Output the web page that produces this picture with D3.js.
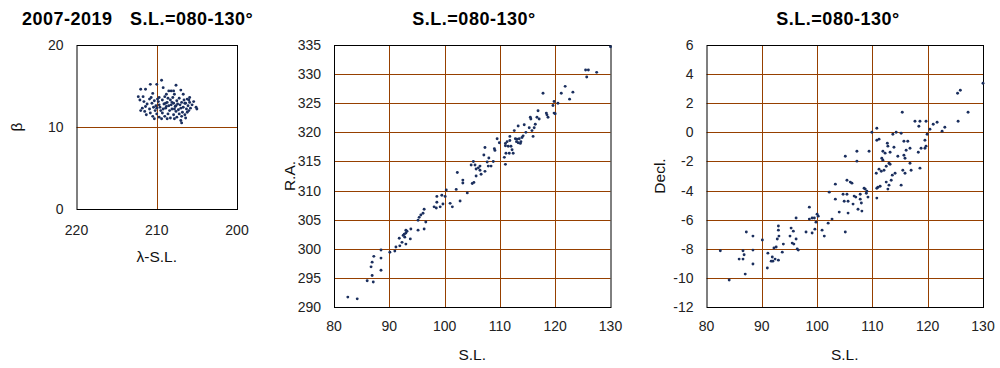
<!DOCTYPE html>
<html><head><meta charset="utf-8">
<script src="https://cdn.jsdelivr.net/npm/d3@7"></script>
<style>body{margin:0;background:#fff}svg{display:block}text{font-family:Arial,"Liberation Sans",sans-serif}</style>
</head><body><svg id="c" width="1000" height="368"></svg>
<script>
// ---- data ----
const titleYears = "2007-2019";
const titleSL = "S.L.=080-130°";

// panel 1: λ-S.L. vs β
const lamSL = [209.4,210.8,210.0,207.6,211.4,212.0,208.5,208.2,207.9,207.0,209.2,212.3,211.7,207.8,206.7,209.7,208.8,210.5,206.2,205.9,
212.1,211.6,211.2,210.9,210.6,210.3,210.1,209.8,209.6,209.3,209.1,208.9,208.7,208.5,208.3,208.1,207.9,207.7,207.5,207.3,207.1,206.9,206.7,206.5,206.3,206.1,205.9,206.6,207.2,208.0,208.6,209.0,209.9,210.7,211.4,211.8,210.4,209.5,208.4,207.6,206.8,206.0,205.0,205.1,205.6,205.4,207.4,208.2,208.8,209.7,210.2,210.9,211.5,212.0,
211.3,210.8,210.5,210.0,209.7,209.3,209.0,208.6,208.3,207.9,207.5,207.2,206.9,206.5,206.2,207.0,206.9,208.7,210.3,209.4,207.8,206.4,
207.0,207.6,206.4,207.8,208.9,209.2,206.0,205.8,210.0,208.1];
const beta = [15.7,15.2,15.2,15.1,14.6,14.6,14.4,14.4,14.4,14.5,14.8,13.7,13.7,14.0,14.0,13.6,14.0,14.1,13.4,13.6,
13.3,13.1,12.8,13.4,12.9,13.2,12.6,13.1,12.4,13.3,12.8,12.3,13.0,12.6,13.3,12.2,12.9,12.5,13.2,12.1,12.7,13.0,12.4,12.9,12.2,12.6,13.0,13.3,13.5,13.6,13.5,13.7,13.4,13.6,12.5,12.3,12.4,12.0,12.0,11.9,11.8,12.0,12.2,12.4,12.7,13.1,12.8,12.7,12.5,12.7,12.0,12.2,11.9,12.0,
11.5,11.7,11.3,11.6,11.2,11.7,11.3,11.6,11.1,11.5,11.2,11.6,11.3,11.5,11.8,10.8,10.5,11.0,11.0,11.0,11.0,11.1,
12.3,12.6,12.9,12.2,12.9,12.2,13.3,12.3,12.3,13.0];

// panel 2: S.L. vs R.A.
const slRA = [82.5,84.2,86.0,87.1,86.9,86.7,86.9,87.2,88.5,88.5,88.5,90.1,91.0,91.2,91.9,91.8,92.3,92.5,92.7,92.8,93.0,93.0,93.2,93.0,93.8,93.9,95.2,95.2,95.4,95.7,96.1,96.3,96.3,96.6,98.1,98.5,98.6,98.6,99.2,99.5,99.7,100.1,100.3,101.0,101.4,102.1,102.3,102.8,103.3,103.3,104.1,104.8,105.0,105.2,105.3,105.5,105.7,105.7,106.1,106.4,106.4,106.6,107.1,107.3,107.3,107.7,107.9,108.0,108.4,108.8,109.0,109.1,109.5,109.9,110.8,111.0,111.0,111.0,111.1,111.3,111.5,111.7,111.8,111.8,112.0,112.2,112.4,112.6,112.8,113.0,113.1,113.3,113.3,113.5,113.7,113.8,114.0,114.2,114.4,114.7,115.3,115.5,115.6,115.8,116.0,116.2,116.4,116.7,116.9,117.1,117.8,118.4,118.5,118.7,119.6,119.8,119.8,120.0,120.5,121.1,121.8,122.6,123.2,125.5,125.7,126.0,127.5,130.0];
const ra = [291.7,291.4,294.5,294.3,295.4,296.9,297.7,298.7,296.3,298.4,299.8,299.4,299.6,300.3,300.5,301.8,301.1,302.3,302.5,302.0,302.7,303.2,303.0,300.8,301.7,303.4,303.2,304.9,305.4,305.8,306.1,306.8,303.4,304.6,307.2,307.0,308.0,309.0,307.2,309.2,307.7,309.0,310.1,307.8,307.2,310.2,313.1,308.2,311.8,311.3,309.6,314.4,311.2,315.0,311.4,314.4,313.7,312.5,313.9,314.2,313.5,312.8,316.1,317.4,313.3,314.9,314.2,315.6,314.2,315.0,317.2,316.9,318.9,318.2,315.7,314.5,318.1,317.7,316.4,318.4,317.6,316.4,318.6,319.3,317.6,317.0,316.4,320.3,318.9,318.4,318.8,321.1,318.2,318.9,318.1,318.4,319.1,319.4,321.3,320.0,320.8,322.6,322.3,320.3,319.3,320.8,321.4,322.6,323.7,322.3,326.7,323.3,323.0,322.6,324.6,325.3,323.3,323.2,325.0,326.7,327.9,325.7,326.9,330.7,329.5,330.7,330.3,334.7];

// panel 3: S.L. vs Decl.
const slDec = [82.5,84.1,85.9,86.6,86.8,86.6,87.0,87.2,88.4,88.4,88.4,90.1,91.0,91.1,91.7,91.9,92.0,92.2,92.4,92.6,92.8,93.0,93.0,93.0,93.1,93.7,93.9,95.1,95.3,95.5,95.7,95.8,96.2,96.2,96.4,96.6,98.0,98.6,98.6,99.1,99.1,99.5,99.6,99.8,100.0,100.2,100.9,101.3,102.0,102.2,102.7,103.3,103.3,104.0,104.7,104.9,105.1,105.1,105.4,105.4,105.6,105.6,106.0,106.3,106.5,106.7,107.0,107.2,107.2,107.4,107.8,107.8,108.0,108.1,108.5,108.7,108.9,109.0,109.2,109.4,109.9,110.7,110.8,110.8,110.8,110.8,111.0,111.2,111.2,111.4,111.6,111.7,111.9,111.9,112.1,112.3,112.5,112.5,112.7,112.8,112.8,113.0,113.0,113.2,113.2,113.4,113.6,113.7,113.9,114.1,114.3,114.6,115.2,115.2,115.4,115.5,115.7,115.7,115.9,115.9,116.1,116.4,116.8,116.8,117.0,117.7,118.3,118.4,118.6,118.6,118.8,119.5,119.5,119.7,119.7,119.9,120.4,121.0,121.7,122.6,123.1,125.4,125.9,125.5,127.3,130.0];
const decl = [-8.14,-10.15,-8.71,-8.71,-8.41,-8.14,-9.74,-6.85,-7.13,-8.09,-9.05,-7.40,-9.32,-8.30,-8.85,-8.57,-8.85,-7.95,-8.71,-7.88,-7.33,-6.44,-6.72,-8.78,-7.13,-8.23,-7.68,-7.13,-6.58,-7.61,-6.79,-7.68,-5.89,-7.33,-8.02,-8.09,-6.85,-5.14,-5.96,-5.89,-6.92,-5.89,-6.65,-6.17,-5.62,-5.76,-6.72,-7.13,-6.24,-4.11,-5.96,-3.56,-4.59,-5.48,-4.25,-4.73,-1.64,-6.85,-4.25,-3.29,-4.73,-5.55,-3.42,-3.49,-4.93,-4.38,-4.45,-1.30,-1.98,-5.28,-4.25,-4.59,-4.86,-5.41,-3.84,-3.90,-4.18,-4.04,-4.45,-1.30,0.01,-2.81,0.28,-0.54,-4.52,-3.84,-3.77,-0.47,-2.53,-3.70,-2.67,-1.78,-1.30,-1.91,-2.60,-1.43,-2.33,-3.42,-0.75,-0.95,-3.90,-3.63,-2.12,-2.19,-1.37,-3.29,-2.94,-0.13,-1.02,-2.81,0.01,-1.64,-0.06,-3.63,1.38,-2.60,-1.57,-0.61,-1.78,-2.81,-1.23,-0.61,-2.12,-1.09,-2.60,0.76,-1.37,0.42,0.76,-2.46,-1.09,-1.09,-0.54,0.76,-0.95,-0.13,0.21,0.56,0.69,0.08,0.35,2.68,2.89,0.76,1.38,3.37];

const ticksLam = [220,210,200], ticksBeta = [0,10,20];
const ticksSL = [80,90,100,110,120,130];
const ticksRA = [290,295,300,305,310,315,320,325,330,335];
const ticksDec = [-12,-10,-8,-6,-4,-2,0,2,4,6];

// ---- drawing ----
const svg = d3.select("#c");
const gridColor = "#964000", dotColor = "#1b2f5e", tickColor = "#222";

function panel(o){
  const x = d3.scaleLinear().domain(o.xd).range([o.l, o.r]);
  const y = d3.scaleLinear().domain(o.yd).range([o.b, o.t]);
  const g = svg.append("g");
  g.selectAll(".gx").data(o.xt.filter(v=>v!==o.xd[0]&&v!==o.xd[1])).join("line")
    .attr("x1",d=>Math.round(x(d))+0.5).attr("x2",d=>Math.round(x(d))+0.5).attr("y1",o.t).attr("y2",o.b)
    .attr("stroke",gridColor).attr("stroke-width",1);
  g.selectAll(".gy").data(o.yt.filter(v=>v!==o.yd[0]&&v!==o.yd[1])).join("line")
    .attr("y1",d=>Math.round(y(d))+0.5).attr("y2",d=>Math.round(y(d))+0.5).attr("x1",o.l).attr("x2",o.r)
    .attr("stroke",gridColor).attr("stroke-width",1);
  g.append("rect").attr("x",o.l+0.5).attr("y",o.t+0.5).attr("width",o.r-o.l).attr("height",o.b-o.t)
    .attr("fill","none").attr("stroke","#000").attr("stroke-width",1);
  g.selectAll(".xt").data(o.xt).join("text").attr("x",d=>x(d)).attr("y",o.b+o.xty)
    .attr("text-anchor","middle").attr("font-size",14).attr("fill",tickColor).text(d=>d);
  g.selectAll(".yt").data(o.yt).join("text").attr("x",o.l-13).attr("y",d=>y(d)+5)
    .attr("text-anchor","end").attr("font-size",14).attr("fill",tickColor).text(d=>d);
  g.selectAll("circle").data(o.xs.map((v,i)=>[v,o.ys[i]])).join("circle")
    .attr("cx",d=>x(d[0])).attr("cy",d=>y(d[1])).attr("r",1.45).attr("fill",dotColor);
  g.append("text").attr("x",(o.l+o.r)/2).attr("y",o.xly).attr("text-anchor","middle")
    .attr("font-size",15.5).attr("fill","#111").text(o.xl);
  g.append("text").attr("transform",`translate(${o.ylx},${(o.t+o.b)/2}) rotate(-90)`).attr("text-anchor","middle")
    .attr("font-size",15.5).attr("fill","#111").text(o.yl);
}

panel({xd:[220,200], yd:[0,20], l:76.5, r:237, t:45, b:209, xt:ticksLam, yt:ticksBeta,
  xs:lamSL, ys:beta, xl:"λ-S.L.", yl:"β", xty:26, xly:262, ylx:22});
panel({xd:[80,130], yd:[290,335], l:334, r:610.5, t:45, b:307, xt:ticksSL, yt:ticksRA,
  xs:slRA, ys:ra, xl:"S.L.", yl:"R.A.", xty:24, xly:360, ylx:295});
panel({xd:[80,130], yd:[-12,6], l:706.5, r:983, t:45, b:307, xt:ticksSL, yt:ticksDec,
  xs:slDec, ys:decl, xl:"S.L.", yl:"Decl.", xty:24, xly:360, ylx:665});

const tstyle = s => s.attr("font-size",18).attr("font-weight","bold").attr("letter-spacing",0.5).attr("fill","#000");
svg.append("text").attr("x",22).attr("y",25).call(tstyle).text(titleYears);
svg.append("text").attr("x",130).attr("y",25).call(tstyle).text(titleSL);
svg.append("text").attr("x",474).attr("y",25).attr("text-anchor","middle").call(tstyle).text(titleSL);
svg.append("text").attr("x",838).attr("y",25).attr("text-anchor","middle").call(tstyle).text(titleSL);
</script></body></html>
